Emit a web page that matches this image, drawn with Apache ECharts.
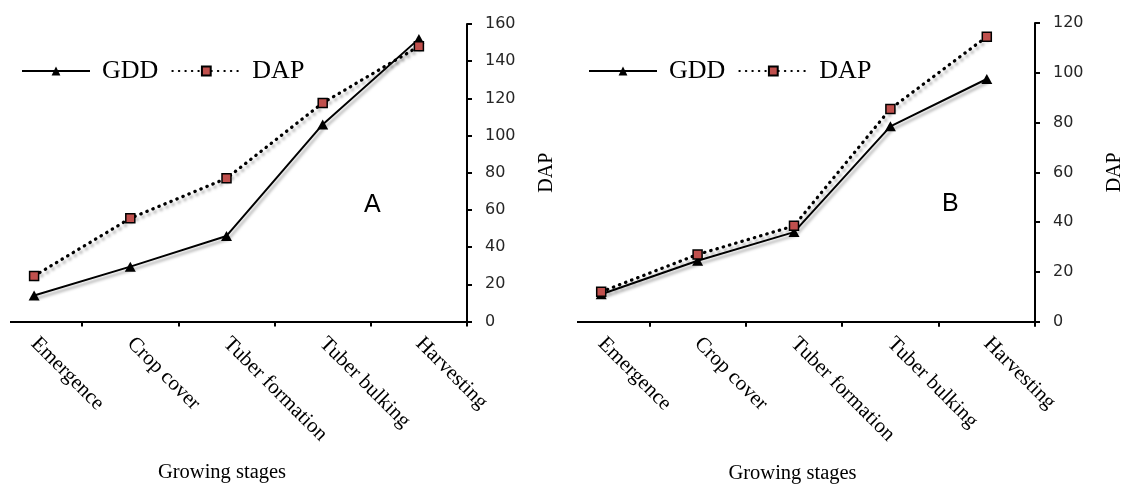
<!DOCTYPE html>
<html><head><meta charset="utf-8">
<script src="https://cdn.jsdelivr.net/npm/echarts@6/dist/echarts.min.js"></script>
<style>html,body{margin:0;padding:0;background:#fff;overflow:hidden}#c{width:1121px;height:486px}</style>
</head><body><div id="c"></div>
<script>
const categories = ['Emergence', 'Crop cover', 'Tuber formation', 'Tuber bulking', 'Harvesting'];
const gddA = [14, 29.5, 46, 106, 152];
const dapA = [24.5, 55.5, 77, 117.5, 148];
const gddB = [11, 24.5, 36, 78.5, 97.5];
const dapB = [12, 27, 38.5, 85.5, 114.5];
const yMaxA = 160, yMaxB = 120, yStep = 20;
const panelLabels = ['A', 'B'];
const xName = 'Growing stages';
const yName = 'DAP';

const serif = 'Liberation Serif';
const shadow = {shadowColor: 'rgba(0,0,0,0.35)', shadowBlur: 3, shadowOffsetX: 2, shadowOffsetY: 3};

function xAxis(gi, namePad) {
  return {
    type: 'category', gridIndex: gi, data: categories, boundaryGap: true,
    axisLine: {show: true, lineStyle: {color: '#000', width: 2}},
    axisTick: {show: true, length: 5, lineStyle: {color: '#000', width: 2}},
    axisLabel: {rotate: -45, margin: 19, color: '#000', fontFamily: serif, fontSize: 21, interval: 0},
    name: xName, nameLocation: 'middle', nameGap: 141,
    nameTextStyle: {color: '#000', fontFamily: serif, fontSize: 20.5, padding: namePad},
    splitLine: {show: false}
  };
}
function yAxis(gi, max) {
  return {
    type: 'value', gridIndex: gi, position: 'right', min: 0, max: max, interval: yStep,
    axisLine: {show: true, lineStyle: {color: '#000', width: 2}},
    axisTick: {show: true, inside: false, length: 5, lineStyle: {color: '#000', width: 2}},
    axisLabel: {margin: 18, color: '#262626', fontFamily: 'DejaVu Sans', fontSize: 16},
    splitLine: {show: false},
    name: yName, nameLocation: 'middle', nameRotate: 90, nameGap: 70,
    nameTextStyle: {color: '#000', fontFamily: serif, fontSize: 20}
  };
}
function gddSeries(gi, data) {
  return {
    name: 'GDD', type: 'line', xAxisIndex: gi, yAxisIndex: gi, data: data,
    symbol: 'triangle', symbolSize: [11, 10],
    itemStyle: {color: '#000'},
    lineStyle: Object.assign({color: '#000', width: 2}, shadow),
    z: 3, animation: false
  };
}
function dapSeries(gi, data) {
  return {
    name: 'DAP', type: 'line', xAxisIndex: gi, yAxisIndex: gi, data: data,
    symbol: 'rect', symbolSize: 9,
    itemStyle: {color: '#c0504d', borderColor: '#000', borderWidth: 1.5},
    lineStyle: Object.assign({color: '#000', width: 3.2, type: [0.5, 6], cap: 'round'}, shadow),
    z: 4, animation: false
  };
}
function legend(left) {
  return {
    show: true, left: left, top: 58, orient: 'horizontal', padding: 0,
    data: ['GDD', 'DAP'], itemWidth: 68, itemHeight: 11, itemGap: 13,
    textStyle: {color: '#000', fontFamily: serif, fontSize: 26, padding: [0, 0, 0, 7]},
    selectedMode: false
  };
}
const chart = echarts.init(document.getElementById('c'), null, {renderer: 'canvas'});
const option = {
  backgroundColor: '#fff',
  animation: false,
  grid: [
    {left: -14, width: 481, top: 24, height: 297.5, outerBoundsMode: 'none', containLabel: false},
    {left: 553, width: 482, top: 23, height: 298.7, outerBoundsMode: 'none', containLabel: false}
  ],
  xAxis: [xAxis(0, [0, 9, 0, 0]), xAxis(1, [0, 3, 0, 0])],
  yAxis: [yAxis(0, yMaxA), yAxis(1, yMaxB)],
  legend: [legend(21), legend(588)],
  series: [gddSeries(0, gddA), dapSeries(0, dapA), gddSeries(1, gddB), dapSeries(1, dapB)],
  graphic: [
    {type: 'rect', left: 0, top: 317, shape: {width: 10, height: 12}, style: {fill: '#fff'}, z: 100},
    {type: 'rect', left: 548, top: 317, shape: {width: 29, height: 12}, style: {fill: '#fff'}, z: 100},
    {type: 'text', left: 364, top: 193, style: {text: panelLabels[0], font: '25px "Liberation Sans"', fill: '#000'}},
    {type: 'text', left: 942, top: 192, style: {text: panelLabels[1], font: '25px "Liberation Sans"', fill: '#000'}}
  ]
};
chart.setOption(option);
</script></body></html>
